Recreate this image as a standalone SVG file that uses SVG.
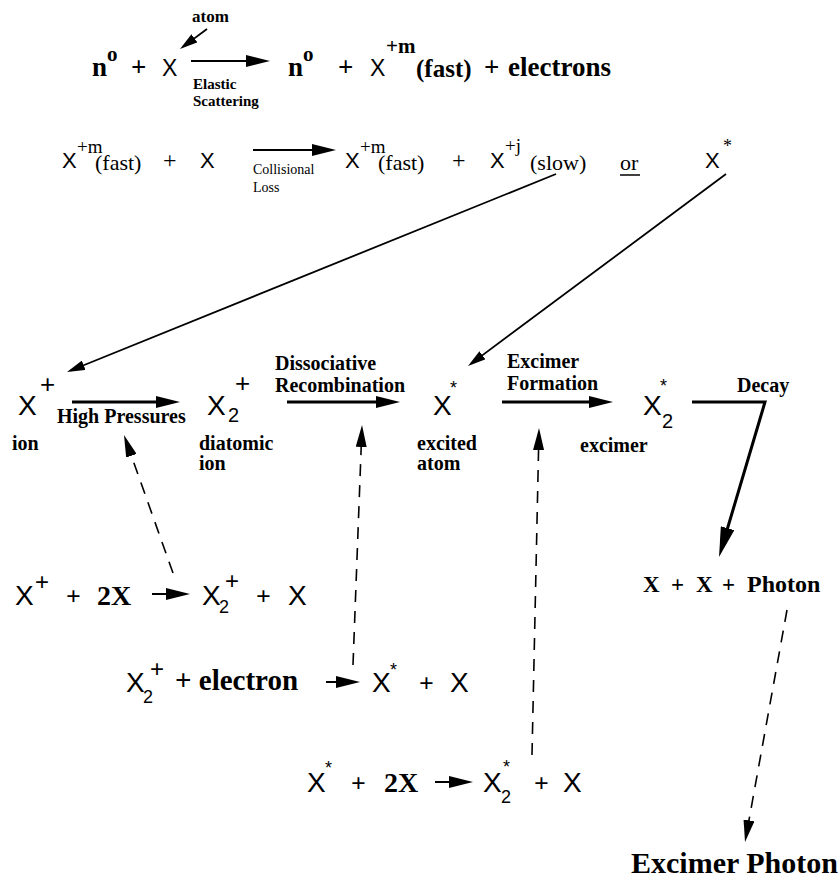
<svg xmlns="http://www.w3.org/2000/svg" width="840" height="879" viewBox="0 0 840 879">
<style>
.s{font-family:"Liberation Serif",serif;font-weight:bold;fill:#000}
.r{font-family:"Liberation Serif",serif;font-weight:normal;fill:#000}
.x{font-family:"Liberation Sans",sans-serif;font-weight:normal;fill:#000}
.ln{stroke:#000;fill:none}
.d{stroke:#000;fill:none;stroke-width:1.6;stroke-dasharray:12 9}
</style>
<defs>
<marker id="ah" markerUnits="userSpaceOnUse" markerWidth="24" markerHeight="12" refX="16" refY="6" orient="auto"><path d="M0,0 L24,6 L0,12 Z" fill="#000"/></marker>
<marker id="at" markerUnits="userSpaceOnUse" markerWidth="18" markerHeight="10" refX="14" refY="5" orient="auto"><path d="M0,0 L18,5 L0,10 Z" fill="#000"/></marker>
<marker id="ad" markerUnits="userSpaceOnUse" markerWidth="22" markerHeight="11" refX="16" refY="5.5" orient="auto"><path d="M0,0 L22,5.5 L0,11 Z" fill="#000"/></marker>
<marker id="ak" markerUnits="userSpaceOnUse" markerWidth="30" markerHeight="14" refX="22" refY="7" orient="auto"><path d="M0,0 L30,7 L0,14 Z" fill="#000"/></marker>
</defs>

<g id="connectors">
<line class="ln" stroke-width="1.8" x1="207" y1="29" x2="183.2" y2="46.6" marker-end="url(#at)"/>
<line class="ln" stroke-width="2" x1="191" y1="61" x2="262" y2="61" marker-end="url(#ah)"/>
<line class="ln" stroke-width="2" x1="253" y1="150" x2="328" y2="150" marker-end="url(#ah)"/>
<line class="ln" stroke-width="1.8" x1="556" y1="174" x2="70.7" y2="370.5" marker-end="url(#at)"/>
<line class="ln" stroke-width="1.8" x1="726" y1="174" x2="471.2" y2="363.6" marker-end="url(#at)"/>
<line class="ln" stroke-width="3" x1="72" y1="402" x2="172" y2="402" marker-end="url(#ah)"/>
<line class="ln" stroke-width="3" x1="287" y1="402" x2="392" y2="402" marker-end="url(#ah)"/>
<line class="ln" stroke-width="3" x1="502" y1="402" x2="605" y2="402" marker-end="url(#ah)"/>
<polyline class="ln" stroke-width="3" points="692,402 765,402 721.3,549.3" marker-end="url(#ak)"/>
<line class="ln" stroke-width="2" x1="152" y1="594" x2="182" y2="594" marker-end="url(#ah)"/>
<line class="ln" stroke-width="2" x1="326" y1="682" x2="352" y2="682" marker-end="url(#ah)"/>
<line class="ln" stroke-width="2" x1="435" y1="782" x2="465" y2="782" marker-end="url(#ah)"/>
<line class="d" x1="173" y1="573" x2="126" y2="440.7" marker-end="url(#ad)"/>
<line class="d" x1="353" y1="665" x2="361.8" y2="431" marker-end="url(#ad)"/>
<line class="d" x1="532" y1="755" x2="538.9" y2="434" marker-end="url(#ad)"/>
<line class="d" x1="787" y1="610" x2="746.1" y2="836.1" marker-end="url(#ad)"/>
</g>

<g id="eq-elastic">
<text class="s" x="192" y="22" font-size="17">atom</text>
<text class="s" x="92" y="76" font-size="27">n</text>
<text class="s" x="107" y="61" font-size="21">o</text>
<text class="s" x="131" y="76" font-size="27">+</text>
<text class="x" x="162" y="76" font-size="23">X</text>
<text class="s" x="193" y="89" font-size="15">Elastic</text>
<text class="s" x="193" y="106" font-size="15">Scattering</text>
<text class="s" x="288" y="76" font-size="27">n</text>
<text class="s" x="303" y="61" font-size="21">o</text>
<text class="s" x="338" y="76" font-size="27">+</text>
<text class="x" x="370" y="76" font-size="23">X</text>
<text class="s" x="386" y="53" font-size="21">+m</text>
<text class="s" x="416" y="77" font-size="25">(fast)</text>
<text class="s" x="484" y="76" font-size="27">+</text>
<text class="s" x="508" y="76" font-size="27">electrons</text>
</g>

<g id="eq-collisional">
<text class="x" x="62" y="168" font-size="22">X</text>
<text class="r" x="77" y="153" font-size="19">+m</text>
<text class="r" x="95" y="170" font-size="22">(fast)</text>
<text class="r" x="163" y="168" font-size="24">+</text>
<text class="x" x="200" y="168" font-size="22">X</text>
<text class="r" x="253" y="174" font-size="14">Collisional</text>
<text class="r" x="253" y="192" font-size="14">Loss</text>
<text class="x" x="345" y="168" font-size="22">X</text>
<text class="r" x="360" y="153" font-size="19">+m</text>
<text class="r" x="378" y="170" font-size="22">(fast)</text>
<text class="r" x="452" y="168" font-size="24">+</text>
<text class="x" x="490" y="168" font-size="22">X</text>
<text class="r" x="505" y="152" font-size="19">+j</text>
<text class="r" x="530" y="170" font-size="22">(slow)</text>
<text class="r" x="620" y="170" font-size="22">or</text>
<line class="ln" stroke-width="1.5" x1="620" y1="175" x2="640" y2="175"/>
<text class="x" x="705" y="168" font-size="22">X</text>
<text class="r" x="723" y="152" font-size="18">*</text>
</g>

<g id="node-ion">
<text class="x" x="18" y="415" font-size="28">X</text>
<text class="x" x="40" y="393" font-size="26">+</text>
<text class="s" x="12" y="450" font-size="20">ion</text>
</g>
<text class="s" x="57" y="423" font-size="20">High Pressures</text>

<g id="node-diatomic-ion">
<text class="x" x="207" y="415" font-size="28">X</text>
<text class="x" x="228" y="422" font-size="20">2</text>
<text class="x" x="235" y="392" font-size="26">+</text>
<text class="s" x="199" y="450" font-size="20">diatomic</text>
<text class="s" x="199" y="470" font-size="20">ion</text>
</g>
<text class="s" x="275" y="370" font-size="20">Dissociative</text>
<text class="s" x="275" y="392" font-size="20">Recombination</text>

<g id="node-excited-atom">
<text class="x" x="433" y="415" font-size="28">X</text>
<text class="x" x="450" y="394" font-size="18">*</text>
<text class="s" x="417" y="450" font-size="20">excited</text>
<text class="s" x="417" y="470" font-size="20">atom</text>
</g>
<text class="s" x="507" y="368" font-size="20">Excimer</text>
<text class="s" x="507" y="390" font-size="20">Formation</text>

<g id="node-excimer">
<text class="x" x="643" y="415" font-size="28">X</text>
<text class="x" x="662" y="428" font-size="20">2</text>
<text class="x" x="660" y="392" font-size="18">*</text>
<text class="s" x="580" y="452" font-size="20">excimer</text>
</g>
<text class="s" x="737" y="392" font-size="20">Decay</text>

<g id="eq-diatomic-formation">
<text class="x" x="15" y="605" font-size="28">X</text>
<text class="x" x="35" y="590" font-size="24">+</text>
<text class="s" x="66" y="605" font-size="26">+</text>
<text class="s" x="97" y="605" font-size="28">2X</text>
<text class="x" x="202" y="605" font-size="28">X</text>
<text class="x" x="219" y="613" font-size="18">2</text>
<text class="x" x="225" y="589" font-size="24">+</text>
<text class="s" x="256" y="605" font-size="26">+</text>
<text class="x" x="288" y="605" font-size="28">X</text>
</g>

<g id="eq-recombination">
<text class="x" x="126" y="692" font-size="28">X</text>
<text class="x" x="143" y="703" font-size="18">2</text>
<text class="x" x="150" y="677" font-size="24">+</text>
<text class="s" x="175" y="690" font-size="29">+ electron</text>
<text class="x" x="372" y="692" font-size="28">X</text>
<text class="x" x="390" y="676" font-size="18">*</text>
<text class="s" x="419" y="692" font-size="26">+</text>
<text class="x" x="450" y="692" font-size="28">X</text>
</g>

<g id="eq-excimer-formation">
<text class="x" x="307" y="792" font-size="28">X</text>
<text class="x" x="325" y="774" font-size="18">*</text>
<text class="s" x="351" y="792" font-size="26">+</text>
<text class="s" x="384" y="792" font-size="28">2X</text>
<text class="x" x="483" y="792" font-size="28">X</text>
<text class="x" x="501" y="803" font-size="18">2</text>
<text class="x" x="503" y="773" font-size="18">*</text>
<text class="s" x="534" y="792" font-size="26">+</text>
<text class="x" x="563" y="792" font-size="28">X</text>
</g>

<g id="node-decay-products">
<text class="s" x="643" y="592" font-size="23">X</text>
<text class="s" x="671" y="592" font-size="23">+</text>
<text class="s" x="696" y="592" font-size="23">X</text>
<text class="s" x="722" y="592" font-size="23">+</text>
<text class="s" x="747" y="592" font-size="24">Photon</text>
</g>

<g id="node-excimer-photon">
<text class="s" x="631" y="873" font-size="30">Excimer Photon</text>
</g>
</svg>
